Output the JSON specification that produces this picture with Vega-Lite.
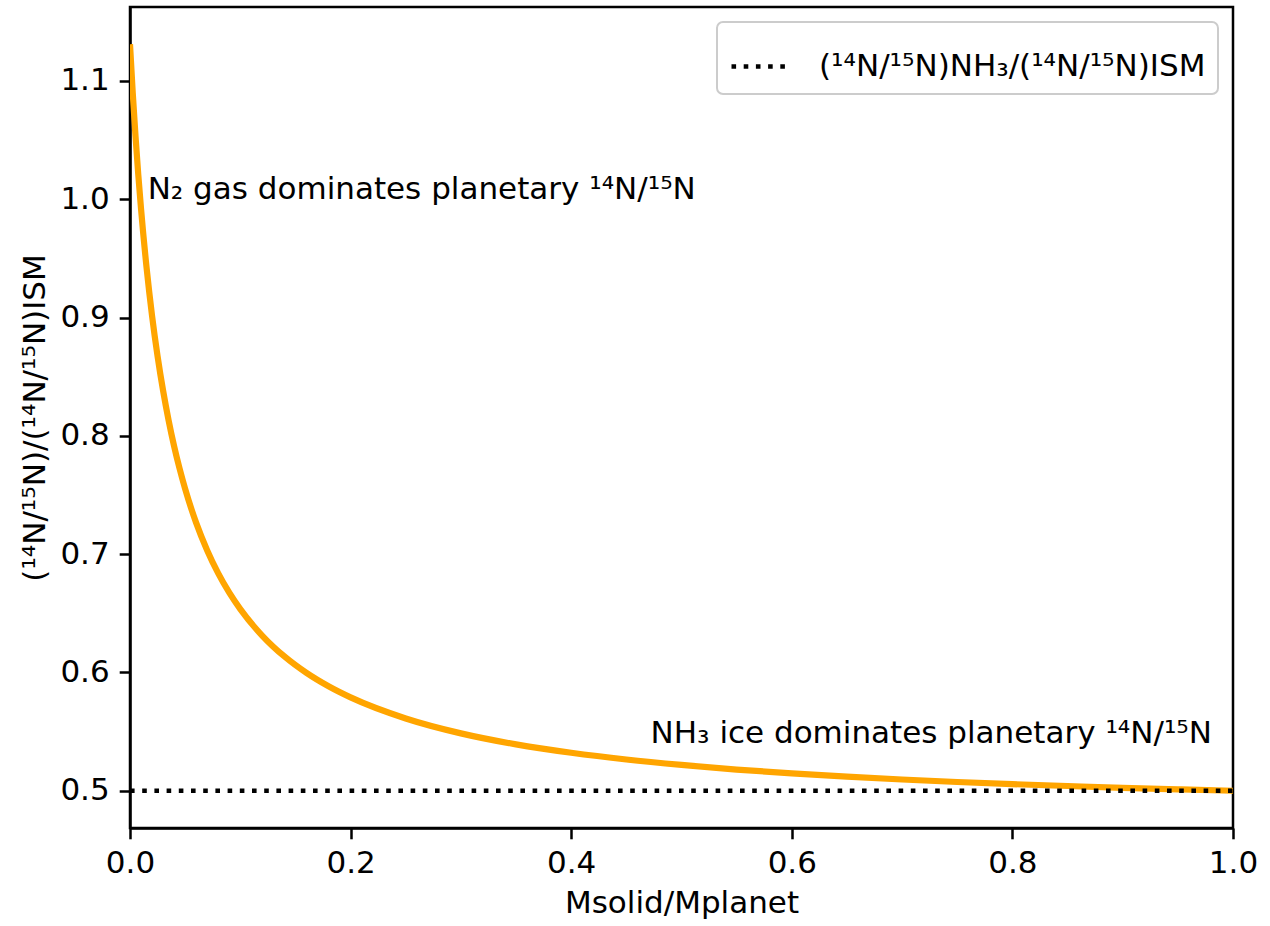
{
  "$schema": "https://vega.github.io/schema/vega-lite/v6.json",
  "autosize": "none",
  "width": 1103,
  "height": 821,
  "padding": {"left": 130, "top": 7, "right": 37, "bottom": 98},
  "background": "white",
  "config": {
    "font": "DejaVu Sans",
    "view": {"stroke": "black", "strokeWidth": 2.5},
    "axis": {
      "grid": false,
      "domainColor": "black",
      "domainWidth": 2.5,
      "tickColor": "black",
      "tickWidth": 2.5,
      "tickSize": 10.8,
      "labelFont": "DejaVu Sans",
      "labelFontSize": 31,
      "labelColor": "black",
      "labelPadding": 10,
      "labelFlush": false,
      "labelOverlap": false,
      "titleFont": "DejaVu Sans",
      "titleFontSize": 31,
      "titleFontWeight": "normal",
      "titleColor": "black"
    }
  },
  "datasets": {
    "curve": [
      {"f": 0.0, "r": 1.131},
      {"f": 0.0025, "r": 1.0896},
      {"f": 0.005, "r": 1.0532},
      {"f": 0.0075, "r": 1.0208},
      {"f": 0.01, "r": 0.9919},
      {"f": 0.015, "r": 0.9424},
      {"f": 0.02, "r": 0.9015},
      {"f": 0.025, "r": 0.8673},
      {"f": 0.03, "r": 0.8382},
      {"f": 0.035, "r": 0.8131},
      {"f": 0.04, "r": 0.7912},
      {"f": 0.045, "r": 0.7721},
      {"f": 0.05, "r": 0.7551},
      {"f": 0.06, "r": 0.7264},
      {"f": 0.07, "r": 0.7031},
      {"f": 0.08, "r": 0.6837},
      {"f": 0.09, "r": 0.6674},
      {"f": 0.10, "r": 0.6535},
      {"f": 0.12, "r": 0.6310},
      {"f": 0.14, "r": 0.6135},
      {"f": 0.16, "r": 0.5996},
      {"f": 0.18, "r": 0.5883},
      {"f": 0.20, "r": 0.5789},
      {"f": 0.25, "r": 0.5611},
      {"f": 0.30, "r": 0.5485},
      {"f": 0.35, "r": 0.5392},
      {"f": 0.40, "r": 0.5321},
      {"f": 0.45, "r": 0.5264},
      {"f": 0.50, "r": 0.5218},
      {"f": 0.55, "r": 0.5179},
      {"f": 0.60, "r": 0.5147},
      {"f": 0.65, "r": 0.5119},
      {"f": 0.70, "r": 0.5095},
      {"f": 0.75, "r": 0.5074},
      {"f": 0.80, "r": 0.5056},
      {"f": 0.85, "r": 0.5040},
      {"f": 0.90, "r": 0.5025},
      {"f": 0.95, "r": 0.5012},
      {"f": 1.0, "r": 0.5}
    ],
    "ref": [
      {"f": 0.0, "r": 0.5, "series": "(¹⁴N/¹⁵N)NH₃/(¹⁴N/¹⁵N)ISM"},
      {"f": 1.0, "r": 0.5, "series": "(¹⁴N/¹⁵N)NH₃/(¹⁴N/¹⁵N)ISM"}
    ],
    "notes": [
      {"f": 0.016, "r": 1.0, "label": "N₂ gas dominates planetary ¹⁴N/¹⁵N"},
      {"f": 0.472, "r": 0.54, "label": "NH₃ ice dominates planetary ¹⁴N/¹⁵N"}
    ]
  },
  "encoding": {
    "x": {
      "field": "f",
      "type": "quantitative",
      "scale": {"domain": [0, 1], "nice": false, "zero": false},
      "axis": {"values": [0, 0.2, 0.4, 0.6, 0.8, 1.0], "format": ".1f", "title": "Msolid/Mplanet", "titlePadding": 10}
    },
    "y": {
      "field": "r",
      "type": "quantitative",
      "scale": {"domain": [0.4685, 1.1625], "nice": false, "zero": false},
      "axis": {"values": [0.5, 0.6, 0.7, 0.8, 0.9, 1.0, 1.1], "format": ".1f", "title": "(¹⁴N/¹⁵N)/(¹⁴N/¹⁵N)ISM", "titlePadding": 8}
    }
  },
  "layer": [
    {
      "data": {"name": "curve"},
      "mark": {"type": "line", "color": "#FFA500", "strokeWidth": 6.2, "interpolate": "monotone", "clip": true}
    },
    {
      "data": {"name": "ref"},
      "mark": {"type": "line", "strokeWidth": 4.6, "strokeDash": [4.6, 7.6], "clip": true},
      "encoding": {
        "color": {
          "field": "series",
          "type": "nominal",
          "scale": {"range": ["black"]},
          "legend": {
            "title": null,
            "orient": "top-right",
            "offset": 15,
            "padding": 12,
            "strokeColor": "#cccccc",
            "cornerRadius": 6,
            "fillColor": "white",
            "labelFont": "DejaVu Sans",
            "labelFontSize": 31,
            "labelColor": "black",
            "labelOffset": 25,
            "labelLimit": 800,
            "symbolType": "stroke",
            "symbolSize": 3600,
            "symbolStrokeWidth": 4.6,
            "symbolDash": [4.6, 7.6],
            "symbolStrokeColor": "black",
            "encode": {"legend": {"update": {"strokeWidth": {"value": 2}}}}
          }
        }
      }
    },
    {
      "data": {"name": "notes"},
      "mark": {"type": "text", "align": "left", "baseline": "alphabetic", "fontSize": 31, "font": "DejaVu Sans", "color": "black"},
      "encoding": {"text": {"field": "label"}}
    }
  ]
}
